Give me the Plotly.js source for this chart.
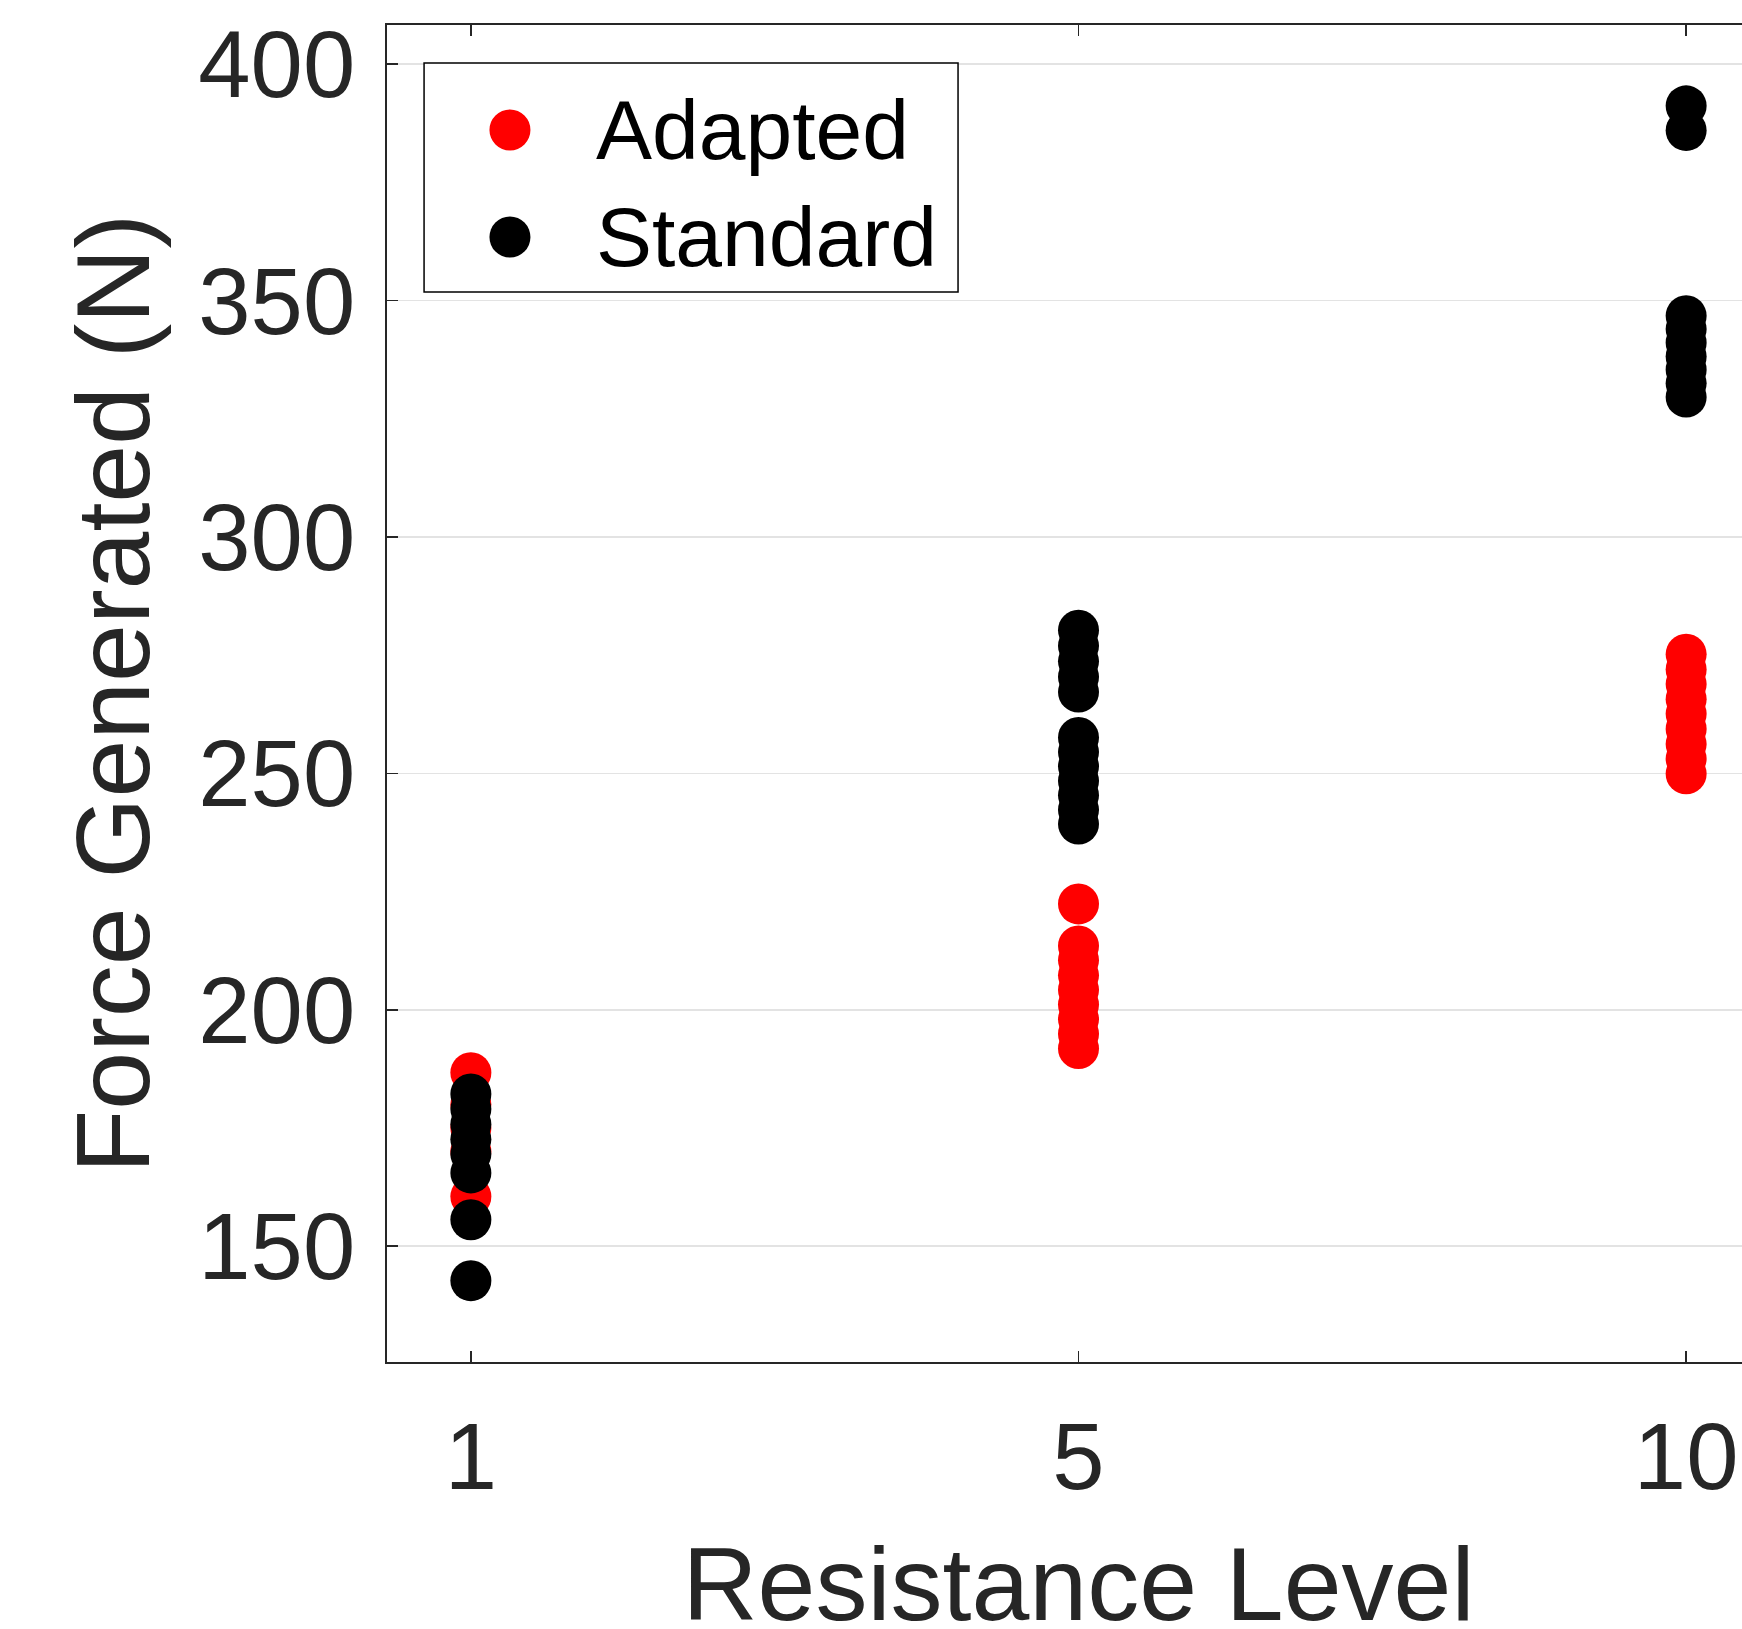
<!DOCTYPE html>
<html>
<head>
<meta charset="utf-8">
<script src="https://cdn.plot.ly/plotly-3.0.1.min.js"></script>
<style>
html,body{margin:0;padding:0;overflow:hidden;background:#fff;}
#chart{width:1900px;height:1720px;}
</style>
</head>
<body>
<div id="chart"></div>
<script>
// Categories (resistance levels)
const levels = ['1', '5', '10'];
const seriesNames = ['Adapted', 'Standard'];
const seriesColors = ['#ff0000', '#000000'];

// Force generated (N), Adapted
const adaptedL1 = [186.7, 180, 175, 170, 160.5];
const adaptedL5 = [222.4, 213.5, 210.5, 207.3, 204.2, 201.1, 198, 194.9, 191.8];
const adaptedL10 = [275.2, 272, 268.9, 265.7, 262.6, 259.4, 256.2, 253.1, 249.9];

// Force generated (N), Standard
const standardL1 = [182.2, 179, 175.8, 172.6, 169.5, 165.5, 155.6, 142.7];
const standardL5 = [280.3, 277, 273.7, 270.4, 267.2, 257.6, 254.5, 251.5, 248.4, 245.4, 242.3, 239.3];
const standardL10 = [391.2, 386, 346.8, 344, 341.1, 338.2, 335.4, 332.5, 329.6];

const yTicks = [150, 200, 250, 300, 350, 400];

function buildXY(groups) {
  const x = [], y = [];
  groups.forEach((vals, i) => vals.forEach(v => { x.push(levels[i]); y.push(v); }));
  return {x, y};
}

const a = buildXY([adaptedL1, adaptedL5, adaptedL10]);
const s = buildXY([standardL1, standardL5, standardL10]);

const FONT = 'Arial, "Liberation Sans", Helvetica, sans-serif';
const TXT = '#262626';

const traces = [
  {type: 'scatter', mode: 'markers', name: seriesNames[0], x: a.x, y: a.y,
   marker: {color: seriesColors[0], size: 41, line: {width: 0}}, showlegend: false, hoverinfo: 'skip'},
  {type: 'scatter', mode: 'markers', name: seriesNames[1], x: s.x, y: s.y,
   marker: {color: seriesColors[1], size: 41, line: {width: 0}}, showlegend: false, hoverinfo: 'skip'}
];

// Manual legend (large markers as in the reference)
const legX0 = 0.0268, legX1 = 0.4129, legY0 = 0.8003, legY1 = 0.9716;
const legMarkX = 0.0889, legTextX = 0.1500;
const legRowY = [0.9215, 0.8414];

const shapes = [
  {type: 'rect', xref: 'paper', yref: 'paper', x0: legX0, x1: legX1, y0: legY0, y1: legY1,
   line: {color: '#000000', width: 1.5}, fillcolor: '#ffffff', layer: 'above'}
];
const annotations = [];
seriesNames.forEach((nm, i) => {
  shapes.push({type: 'circle', xref: 'paper', yref: 'paper', xsizemode: 'pixel', ysizemode: 'pixel',
    xanchor: legMarkX, yanchor: legRowY[i], x0: -20.5, x1: 20.5, y0: -20.5, y1: 20.5,
    fillcolor: seriesColors[i], line: {width: 0}, layer: 'above'});
  annotations.push({xref: 'paper', yref: 'paper', x: legTextX, y: legRowY[i], xanchor: 'left', yanchor: 'middle',
    text: nm, showarrow: false, font: {family: FONT, size: 84, color: '#000000'}});
});

const layout = {
  width: 1900, height: 1720,
  margin: {l: 387, r: 130, t: 25, b: 358, pad: 0},
  paper_bgcolor: '#ffffff', plot_bgcolor: '#ffffff',
  showlegend: false,
  font: {family: FONT, color: TXT},
  xaxis: {
    type: 'category', categoryorder: 'array', categoryarray: levels,
    range: [-0.138, 2.138],
    showgrid: false, zeroline: false,
    showline: true, linecolor: TXT, linewidth: 2, mirror: 'ticks',
    ticks: 'inside', ticklen: 11, tickwidth: 1.5, tickcolor: TXT,
    tickfont: {family: FONT, size: 94, color: TXT},
    ticklabelstandoff: 12,
    title: {text: 'Resistance Level', font: {family: FONT, size: 104, color: TXT}, standoff: 39}
  },
  yaxis: {
    range: [125.5, 408.3],
    tickvals: yTicks, ticktext: yTicks.map(String),
    showgrid: true, gridcolor: '#e3e3e3', gridwidth: 1.5, zeroline: false,
    showline: true, linecolor: TXT, linewidth: 2, mirror: 'ticks',
    ticks: 'inside', ticklen: 11, tickwidth: 1.5, tickcolor: TXT,
    tickfont: {family: FONT, size: 94, color: TXT},
    ticklabelstandoff: 11,
    title: {text: 'Force Generated (N)', font: {family: FONT, size: 104, color: TXT}, standoff: 14}
  },
  shapes: shapes,
  annotations: annotations
};

Plotly.newPlot('chart', traces, layout, {staticPlot: true, displayModeBar: false});
</script>
</body>
</html>
